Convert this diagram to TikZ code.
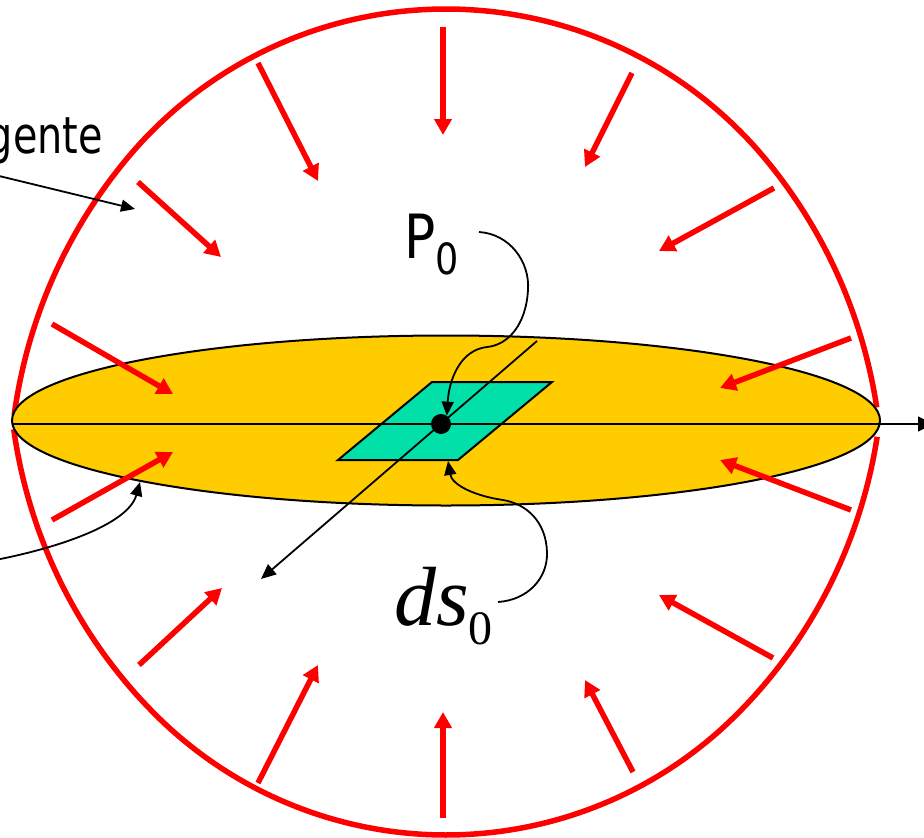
\documentclass[tikz,border=0pt]{standalone}
\usepackage{fontspec}
\usetikzlibrary{arrows.meta}
\newfontfamily\tahomafont[FakeStretch=0.85]{DejaVu Sans}
\newfontfamily\tahomanarrow[FakeStretch=0.78]{DejaVu Sans}
\newfontfamily\timesfont{Liberation Serif}
\definecolor{sunyellow}{RGB}{255,204,0}
\definecolor{patchgreen}{RGB}{0,224,168}
\definecolor{pred}{RGB}{255,0,0}
\tikzset{
 rim/.style={draw=pred, line width=5.5pt},
 force/.style={draw=pred, line width=5.5pt, -{Triangle[length=16pt,width=17pt]}},
 pointer/.style={draw=black, line width=1.8pt, -{Triangle[length=14pt,width=12pt]}},
 axisline/.style={draw=black, line width=1.8pt},
}
\begin{document}
\begin{tikzpicture}[x=1pt,y=-1pt]
\useasboundingbox (0,0) rectangle (924,838);
% outer sphere (two arcs)
\draw[rim] plot[domain=2.2:178.8, samples=200]
 ({446+(415+18*pow(max(0,1-min(\x,180-\x)/40),2))*cos(\x)},
  {424-(415+18*pow(max(0,1-min(\x,180-\x)/40),2))*sin(\x)});
\draw[rim] plot[domain=1.7:179.3, samples=200]
 ({446+(411+22*pow(max(0,1-min(\x,180-\x)/45),2))*cos(\x)},
  {424+(411+22*pow(max(0,1-min(\x,180-\x)/45),2))*sin(\x)});
% equatorial disc
\draw[fill=sunyellow, line width=2pt] (446,420.5) ellipse [x radius=434pt, y radius=85pt];
% surface element
\draw[fill=patchgreen, line width=2pt] (432,382) -- (552,382) -- (458,460) -- (338,460) -- cycle;
% axes
\coordinate (xstart) at (12,424);
\coordinate (xend) at (933,424);
\draw[axisline, -{Triangle[length=15pt,width=15pt]}] (xstart) -- (xend);
\coordinate (zback) at (537,341);
\coordinate (zfront) at (261,579);
\draw[axisline, -{Triangle[length=15pt,width=13pt]}] (zback) -- (zfront);
% point P0
\node[circle, fill=black, inner sep=0pt, minimum size=20pt] (dot) at (441,424) {};
% labels
\node[anchor=base west, inner sep=0pt, font=\tahomafont\fontsize{61}{61}\selectfont] (p0) at (404,258)
 {P\raisebox{-16pt}{\fontsize{43}{43}\selectfont 0}};
\node[anchor=base west, inner sep=0pt, font=\timesfont\itshape\fontsize{84}{84}\selectfont] (ds) at (394,625)
 {ds\raisebox{-19pt}{\upshape\fontsize{48}{48}\selectfont 0}};
\node[anchor=base east, inner sep=0pt, font=\tahomanarrow\fontsize{51}{51}\selectfont] (gl) at (103,153) {gente};
% pointers
\coordinate (gstart) at (-5,175);
\coordinate (gtip) at (135,209);
\draw[pointer] (gstart) -- (gtip);
\coordinate (blstart) at (-10,561);
\coordinate (bltip) at (140,482);
\draw[pointer] (blstart) .. controls (55,549) and (128,525) .. (bltip);
\coordinate (pstart) at (479,232);
\draw[pointer] (pstart) .. controls (510,234) and (530,262) .. (528,290)
 .. controls (526,325) and (508,345) .. (487,347)
 .. controls (460,350) and (449,380) .. (dot.55);
\coordinate (dstart) at (498,602);
\coordinate (dtip) at (448,461);
\draw[pointer] (dstart) .. controls (528,600) and (548,578) .. (547,552)
 .. controls (546,522) and (527,504) .. (503,500)
 .. controls (475,496) and (452,485) .. (dtip);
% pressure arrows
\foreach \ax/\ay/\bx/\by in {443/27/443/135, 632/73/585/167, 258/63/318/181, 138/182/221/257,
 774/188/659/251, 52/324/173/394, 851/338/720/388, 52/520/173/452, 851/510/720/460,
 139/665/222/588, 773/658/659/595, 258/783/318/665, 633/772/585/680, 443/818/443/712}
 \draw[force] (\ax,\ay) -- (\bx,\by);
\end{tikzpicture}
\end{document}
